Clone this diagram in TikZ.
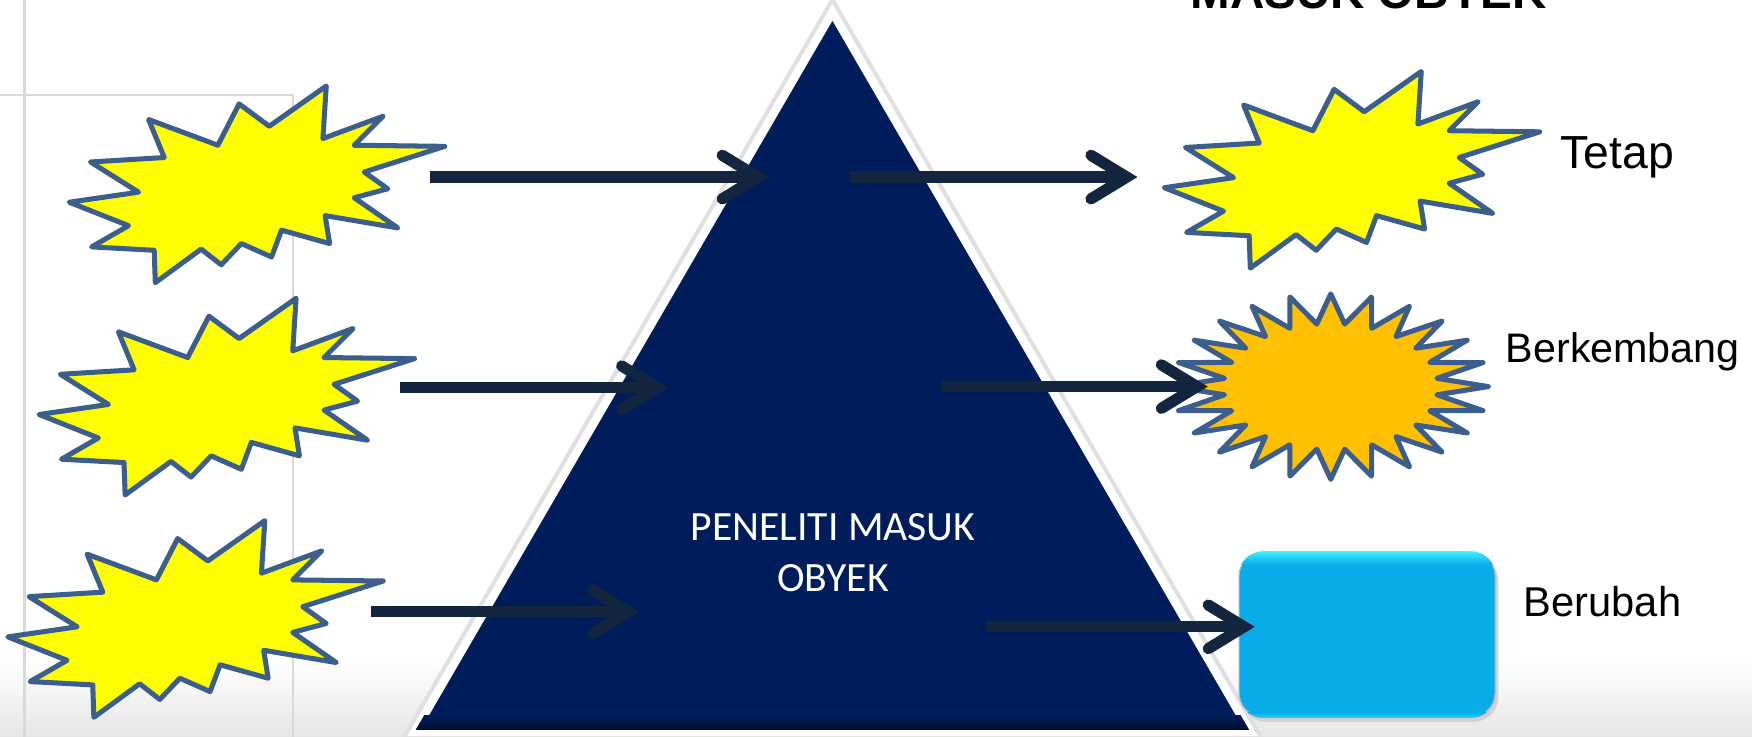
\documentclass[tikz,border=0pt]{standalone}
\usepackage{fontspec}
\setmainfont{Liberation Sans}
\newfontfamily\carlito{Carlito}
\usetikzlibrary{arrows.meta}

\definecolor{Burst}{HTML}{FFFF00}
\definecolor{BurstLine}{HTML}{3B5E8C}
\definecolor{Grow}{HTML}{FFC000}
\definecolor{Navy}{HTML}{001D5B}
\definecolor{ArrowNavy}{HTML}{13253F}
\definecolor{BoxTop}{HTML}{40EEFF}
\definecolor{BoxBody}{HTML}{08ACE8}

\tikzset{
  burst/.style={draw=BurstLine, fill=Burst, line width=0.045cm, line join=round},
  flowarrow/.style={draw=ArrowNavy, line width=0.1cm,
    -{Straight Barb[length=3.2mm, width=3.9mm, line cap=round]}},
  outcome/.style={anchor=base west, inner sep=0pt},
}

% explosion shape, centred on #1,#2
\newcommand{\explosion}[2]{%
  \draw[burst, shift={(#1,#2)}] (62,-88) -- (59,-41) -- (113,-61) -- (87,-35)
    -- (168,-34) -- (96,-11) -- (117,4) -- (87,12) -- (126,39) -- (61,28)
    -- (65,53) -- (22,41) -- (13,65) -- (-14,53) -- (-32,72) -- (-50,58)
    -- (-91,88) -- (-92,59) -- (-148,56) -- (-115,37) -- (-168,16) -- (-106,7)
    -- (-149,-20) -- (-83,-24) -- (-97,-58) -- (-35,-35) -- (-16,-72) -- (11,-52)
    -- cycle;}

\begin{document}
\begin{tikzpicture}[x=0.01cm, y=-0.01cm]

  \useasboundingbox (0,0) rectangle (1568,659.6);

  %%%%%%%%%% Background %%%%%%%%%%
  \shade[top color=white, bottom color=black!10] (0,590) rectangle (1568,659.6);
  \draw[black!15, line width=0.02cm] (22,0) -- (22,659.6);
  \draw[black!15, line width=0.02cm] (0,85) -- (262,85) -- (262,659.6);

  %%%%%%%%%% Triangle %%%%%%%%%%
  \coordinate (apex) at (745,11);
  \coordinate (baseL) at (371,655);
  \coordinate (baseR) at (1119,655);

  \draw[black!12, line width=0.15cm, line join=miter] (apex) -- (baseL) -- (baseR) -- cycle;
  \draw[white, fill=Navy, line width=0.075cm, line join=miter] (apex) -- (baseL) -- (baseR) -- cycle;
  \begin{scope}
    \clip (apex) -- (baseL) -- (baseR) -- cycle;
    \shade[top color=Navy, bottom color=Navy!50!black] (300,640) rectangle (1200,653);
  \end{scope}

  \node[text=white, align=center, inner sep=0pt,
        font=\carlito\fontsize{10.6}{13}\selectfont] (peneliti) at (745.5,495)
        {PENELITI MASUK\\OBYEK};

  \node[anchor=base, inner sep=0pt, font=\bfseries\fontsize{12.1}{14}\selectfont]
        (judul) at (1225,7.5) {MASUK OBYEK};

  %%%%%%%%%% Objects %%%%%%%%%%
  \explosion{230}{165}
  \explosion{203}{355}
  \explosion{175}{554}
  \explosion{1210}{152}

  % growing star
  \draw[draw=BurstLine, fill=Grow, line width=0.045cm, line join=round, shift={(1191,346)}]
    (0:141 and 83) \foreach \i [evaluate=\i as \r using {mod(\i,2)==0 ? 1 : 0.68}] in {1,...,47}
    { -- ({\i*7.5}:{141*\r} and {83*\r}) } -- cycle;

  % changed object
  \fill[black!18, rounded corners=0.22cm] (1111,498) rectangle (1341,646);
  \node[draw=black!30, line width=0.01cm, rounded corners=0.22cm, fill=BoxBody,
        minimum width=2.29cm, minimum height=1.48cm] (ubah) at (1223.5,568) {};
  \begin{scope}
    \clip[rounded corners=0.22cm] (ubah.south west) rectangle (ubah.north east);
    \shade[top color=BoxTop, bottom color=BoxBody] (ubah.north west) rectangle ([yshift=-0.12cm]ubah.north east);
    \shade[top color=BoxBody, bottom color=BoxTop!60!BoxBody] ([yshift=0.05cm]ubah.south west) rectangle (ubah.south east);
  \end{scope}

  %%%%%%%%%% Arrows %%%%%%%%%%
  \coordinate (in1) at (385,158.5);   \coordinate (in1t) at (688,158.5);
  \coordinate (out1) at (761,158.5);  \coordinate (out1t) at (1018,158.5);
  \coordinate (in2) at (358,347);     \coordinate (in2t) at (598,347);
  \coordinate (out2) at (843,346);    \coordinate (out2t) at (1081,346);
  \coordinate (in3) at (332,547.6);   \coordinate (in3t) at (572,547.6);
  \coordinate (out3) at (882,561);    \coordinate (out3t) at (1123,561);

  \draw[flowarrow] (in1) -- (in1t);
  \draw[flowarrow] (out1) -- (out1t);
  \draw[flowarrow] (in2) -- (in2t);
  \draw[flowarrow] (out2) -- (out2t);
  \draw[flowarrow] (in3) -- (in3t);
  \draw[flowarrow] (out3) -- (out3t);

  %%%%%%%%%% Labels %%%%%%%%%%
  \node[outcome, font=\fontsize{11.8}{14}\selectfont] (tetap) at (1396,150.7) {Tetap};
  \node[outcome, font=\fontsize{10.5}{13}\selectfont] (kembang) at (1347,324) {Berkembang};
  \node[outcome, font=\fontsize{10.6}{13}\selectfont] (berubah) at (1363,552) {Berubah};

\end{tikzpicture}
\end{document}
